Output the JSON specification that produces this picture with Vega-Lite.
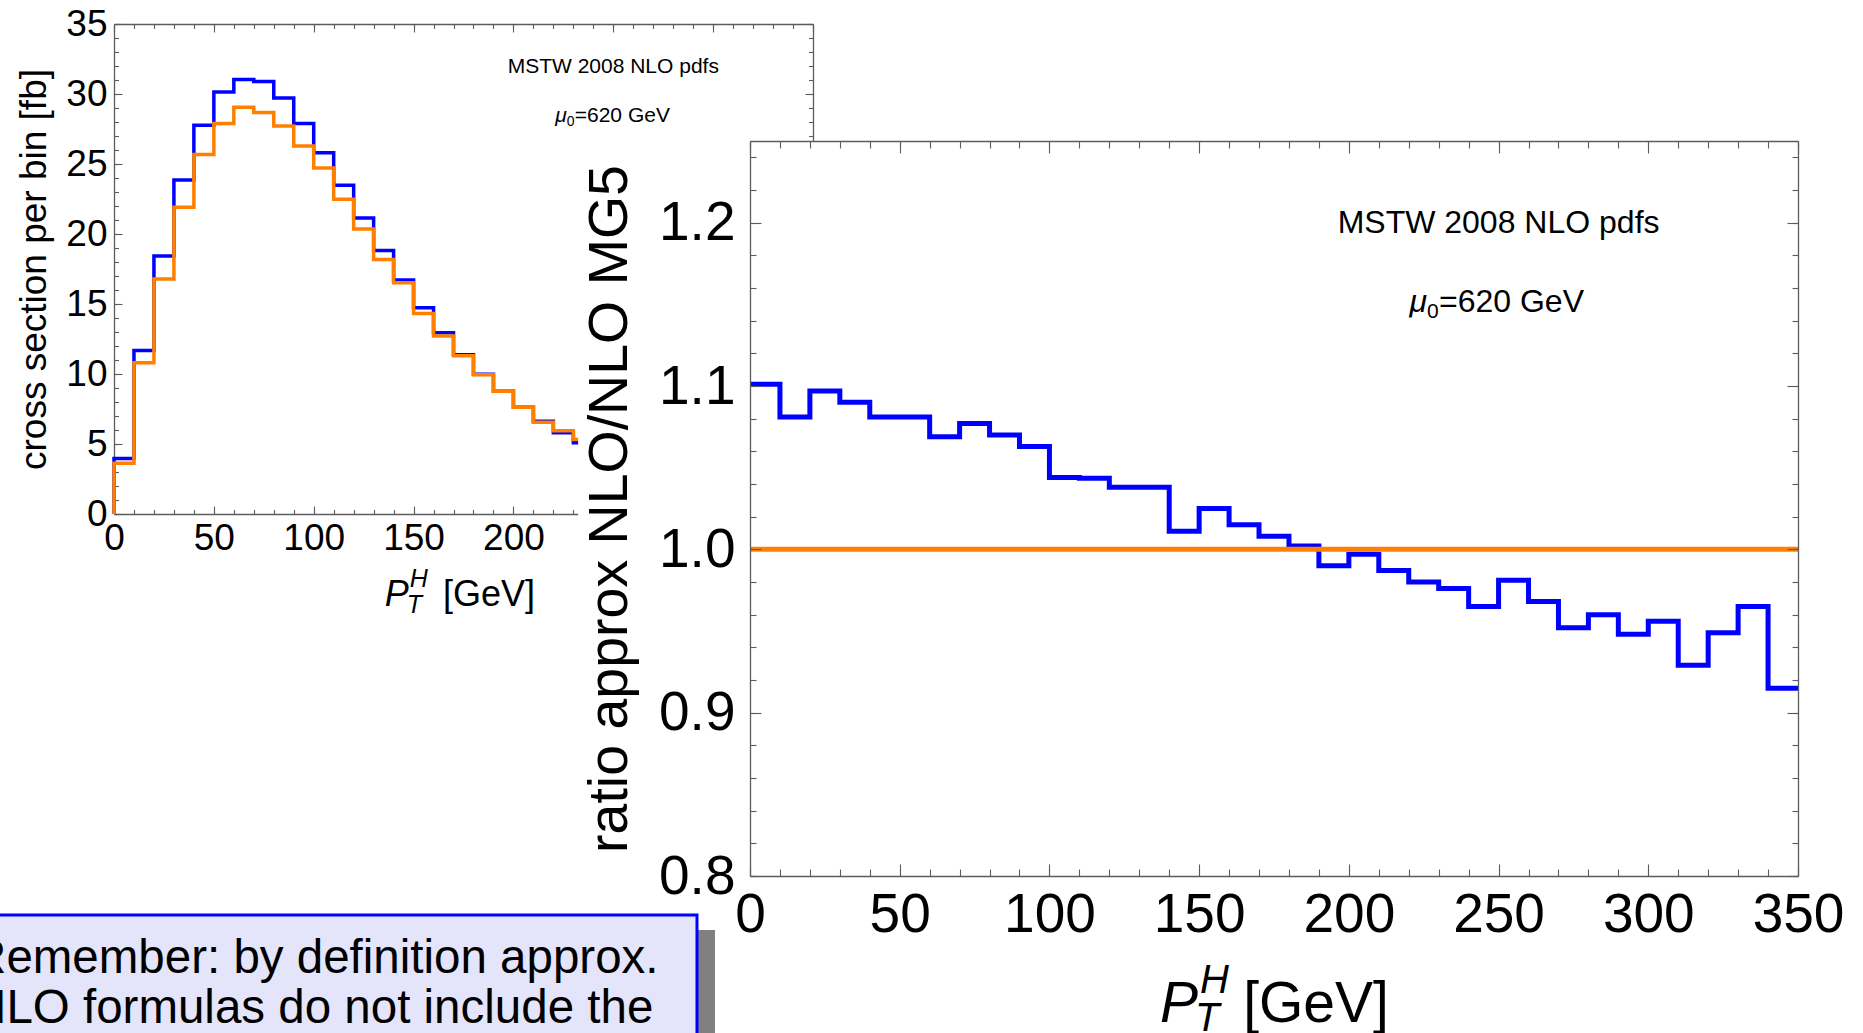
{
  "$schema": "https://vega.github.io/schema/vega-lite/v6.json",
  "width": 1863,
  "height": 1033,
  "autosize": {"type": "none"},
  "padding": 0,
  "background": "white",
  "config": {
    "view": {"stroke": null},
    "font": "Liberation Sans",
    "text": {"font": "Liberation Sans", "color": "black"},
    "axis": {
      "grid": false,
      "labelOverlap": false,
      "labelFlush": false,
      "labelFont": "Liberation Sans",
      "labelColor": "black",
      "titleFont": "Liberation Sans",
      "titleFontWeight": "normal",
      "titleColor": "black",
      "domainColor": "#5c5c5c",
      "domainWidth": 1.3,
      "tickColor": "#5c5c5c",
      "tickWidth": 1.1
    }
  },
  "datasets": {
    "xsec": [
      {"series": "approx NLO", "pt": 0, "xsec": 0},
      {"series": "approx NLO", "pt": 0, "xsec": 3.96},
      {"series": "approx NLO", "pt": 10, "xsec": 11.68},
      {"series": "approx NLO", "pt": 20, "xsec": 18.43},
      {"series": "approx NLO", "pt": 30, "xsec": 23.86},
      {"series": "approx NLO", "pt": 40, "xsec": 27.76},
      {"series": "approx NLO", "pt": 50, "xsec": 30.14},
      {"series": "approx NLO", "pt": 60, "xsec": 31.04},
      {"series": "approx NLO", "pt": 70, "xsec": 30.9},
      {"series": "approx NLO", "pt": 80, "xsec": 29.71},
      {"series": "approx NLO", "pt": 90, "xsec": 27.9},
      {"series": "approx NLO", "pt": 100, "xsec": 25.81},
      {"series": "approx NLO", "pt": 110, "xsec": 23.49},
      {"series": "approx NLO", "pt": 120, "xsec": 21.15},
      {"series": "approx NLO", "pt": 130, "xsec": 18.83},
      {"series": "approx NLO", "pt": 140, "xsec": 16.71},
      {"series": "approx NLO", "pt": 150, "xsec": 14.73},
      {"series": "approx NLO", "pt": 160, "xsec": 12.95},
      {"series": "approx NLO", "pt": 170, "xsec": 11.37},
      {"series": "approx NLO", "pt": 180, "xsec": 9.98},
      {"series": "approx NLO", "pt": 190, "xsec": 8.76},
      {"series": "approx NLO", "pt": 200, "xsec": 7.63},
      {"series": "approx NLO", "pt": 210, "xsec": 6.62},
      {"series": "approx NLO", "pt": 220, "xsec": 5.8},
      {"series": "approx NLO", "pt": 230, "xsec": 5.09},
      {"series": "approx NLO", "pt": 240, "xsec": 5.09},
      {"series": "NLO MG5", "pt": 0, "xsec": 0},
      {"series": "NLO MG5", "pt": 0, "xsec": 3.62},
      {"series": "NLO MG5", "pt": 10, "xsec": 10.8},
      {"series": "NLO MG5", "pt": 20, "xsec": 16.79},
      {"series": "NLO MG5", "pt": 30, "xsec": 21.91},
      {"series": "NLO MG5", "pt": 40, "xsec": 25.67},
      {"series": "NLO MG5", "pt": 50, "xsec": 27.9},
      {"series": "NLO MG5", "pt": 60, "xsec": 29.06},
      {"series": "NLO MG5", "pt": 70, "xsec": 28.67},
      {"series": "NLO MG5", "pt": 80, "xsec": 27.71},
      {"series": "NLO MG5", "pt": 90, "xsec": 26.29},
      {"series": "NLO MG5", "pt": 100, "xsec": 24.71},
      {"series": "NLO MG5", "pt": 110, "xsec": 22.48},
      {"series": "NLO MG5", "pt": 120, "xsec": 20.36},
      {"series": "NLO MG5", "pt": 130, "xsec": 18.18},
      {"series": "NLO MG5", "pt": 140, "xsec": 16.51},
      {"series": "NLO MG5", "pt": 150, "xsec": 14.33},
      {"series": "NLO MG5", "pt": 160, "xsec": 12.72},
      {"series": "NLO MG5", "pt": 170, "xsec": 11.31},
      {"series": "NLO MG5", "pt": 180, "xsec": 9.95},
      {"series": "NLO MG5", "pt": 190, "xsec": 8.76},
      {"series": "NLO MG5", "pt": 200, "xsec": 7.63},
      {"series": "NLO MG5", "pt": 210, "xsec": 6.56},
      {"series": "NLO MG5", "pt": 220, "xsec": 5.94},
      {"series": "NLO MG5", "pt": 230, "xsec": 5.32},
      {"series": "NLO MG5", "pt": 240, "xsec": 5.32}
    ],
    "ratio": [
      {"series": "approx NLO", "pt": 0, "ratio": 1.101},
      {"series": "approx NLO", "pt": 10, "ratio": 1.081},
      {"series": "approx NLO", "pt": 20, "ratio": 1.097},
      {"series": "approx NLO", "pt": 30, "ratio": 1.09},
      {"series": "approx NLO", "pt": 40, "ratio": 1.081},
      {"series": "approx NLO", "pt": 50, "ratio": 1.081},
      {"series": "approx NLO", "pt": 60, "ratio": 1.069},
      {"series": "approx NLO", "pt": 70, "ratio": 1.077},
      {"series": "approx NLO", "pt": 80, "ratio": 1.07},
      {"series": "approx NLO", "pt": 90, "ratio": 1.063},
      {"series": "approx NLO", "pt": 100, "ratio": 1.044},
      {"series": "approx NLO", "pt": 110, "ratio": 1.0435},
      {"series": "approx NLO", "pt": 120, "ratio": 1.038},
      {"series": "approx NLO", "pt": 130, "ratio": 1.038},
      {"series": "approx NLO", "pt": 140, "ratio": 1.011},
      {"series": "approx NLO", "pt": 150, "ratio": 1.025},
      {"series": "approx NLO", "pt": 160, "ratio": 1.015},
      {"series": "approx NLO", "pt": 170, "ratio": 1.008},
      {"series": "approx NLO", "pt": 180, "ratio": 1.002},
      {"series": "approx NLO", "pt": 190, "ratio": 0.99},
      {"series": "approx NLO", "pt": 200, "ratio": 0.997},
      {"series": "approx NLO", "pt": 210, "ratio": 0.987},
      {"series": "approx NLO", "pt": 220, "ratio": 0.98},
      {"series": "approx NLO", "pt": 230, "ratio": 0.976},
      {"series": "approx NLO", "pt": 240, "ratio": 0.965},
      {"series": "approx NLO", "pt": 250, "ratio": 0.981},
      {"series": "approx NLO", "pt": 260, "ratio": 0.968},
      {"series": "approx NLO", "pt": 270, "ratio": 0.952},
      {"series": "approx NLO", "pt": 280, "ratio": 0.96},
      {"series": "approx NLO", "pt": 290, "ratio": 0.948},
      {"series": "approx NLO", "pt": 300, "ratio": 0.956},
      {"series": "approx NLO", "pt": 310, "ratio": 0.929},
      {"series": "approx NLO", "pt": 320, "ratio": 0.949},
      {"series": "approx NLO", "pt": 330, "ratio": 0.965},
      {"series": "approx NLO", "pt": 340, "ratio": 0.915},
      {"series": "approx NLO", "pt": 350, "ratio": 0.915},
      {"series": "NLO MG5", "pt": 0, "ratio": 1},
      {"series": "NLO MG5", "pt": 350, "ratio": 1}
    ]
  },
  "layer": [
    {
      "resolve": {"axis": {"x": "independent", "y": "independent"}},
      "layer": [
        {
          "data": {"name": "xsec"},
          "transform": [{"filter": "datum.series === 'approx NLO'"}],
          "mark": {"type": "line", "interpolate": "step-after", "color": "#0000ff", "strokeWidth": 3.5, "strokeJoin": "miter"},
          "encoding": {
            "x": {"field": "pt", "type": "quantitative",
              "scale": {"domain": [0, 350], "range": [114, 813], "nice": false, "zero": false},
              "axis": {"orient": "bottom", "offset": -519, "values": [0, 50, 100, 150, 200, 250, 300, 350], "tickSize": -8, "labelPadding": 14, "labelFontSize": 37, "title": null, "zindex": 0}},
            "y": {"field": "xsec", "type": "quantitative",
              "scale": {"domain": [0, 35], "range": [514, 24], "nice": false, "zero": false},
              "axis": {"orient": "left", "offset": -114, "values": [0, 5, 10, 15, 20, 25, 30, 35], "tickSize": -8, "labelPadding": 15, "labelFontSize": 37, "title": "cross section per bin [fb]", "titleFontSize": 37, "titlePadding": 12, "zindex": 0}}
          }
        },
        {
          "data": {"name": "xsec"},
          "transform": [{"filter": "datum.series === 'NLO MG5'"}],
          "mark": {"type": "line", "interpolate": "step-after", "color": "#ff8000", "strokeWidth": 3.5, "strokeJoin": "miter"},
          "encoding": {
            "x": {"field": "pt", "type": "quantitative",
              "scale": {"domain": [0, 350], "range": [114, 813], "nice": false, "zero": false},
              "axis": {"orient": "bottom", "offset": -519, "values": [0, 10, 20, 30, 40, 50, 60, 70, 80, 90, 100, 110, 120, 130, 140, 150, 160, 170, 180, 190, 200, 210, 220, 230, 240, 250, 260, 270, 280, 290, 300, 310, 320, 330, 340, 350], "tickSize": -4.5, "labels": false, "domain": false, "title": null, "zindex": 0}},
            "y": {"field": "xsec", "type": "quantitative",
              "scale": {"domain": [0, 35], "range": [514, 24], "nice": false, "zero": false},
              "axis": {"orient": "left", "offset": -114, "values": [0, 1, 2, 3, 4, 5, 6, 7, 8, 9, 10, 11, 12, 13, 14, 15, 16, 17, 18, 19, 20, 21, 22, 23, 24, 25, 26, 27, 28, 29, 30, 31, 32, 33, 34, 35], "tickSize": -4.5, "labels": false, "domain": false, "title": null, "zindex": 0}}
          }
        },
        {
          "data": {"values": [{"x": 250, "y": 31.5, "label": "MSTW 2008 NLO pdfs"}]},
          "mark": {"type": "text", "fontSize": 21, "align": "center", "baseline": "alphabetic"},
          "encoding": {
            "x": {"field": "x", "type": "quantitative",
              "scale": {"domain": [0, 350], "range": [114, 813], "nice": false, "zero": false},
              "axis": {"orient": "top", "offset": -24, "values": [0, 50, 100, 150, 200, 250, 300, 350], "tickSize": -8, "labels": false, "title": null, "zindex": 0}},
            "y": {"field": "y", "type": "quantitative",
              "scale": {"domain": [0, 35], "range": [514, 24], "nice": false, "zero": false},
              "axis": {"orient": "right", "offset": -1050, "values": [0, 5, 10, 15, 20, 25, 30, 35], "tickSize": -8, "labels": false, "title": null, "zindex": 0}},
            "text": {"field": "label"}
          }
        },
        {
          "data": {"values": [{"x": 226.7, "y": 28.02, "label": "μ"}]},
          "mark": {"type": "text", "fontSize": 21, "fontStyle": "italic", "align": "right", "baseline": "alphabetic"},
          "encoding": {
            "x": {"field": "x", "type": "quantitative",
              "scale": {"domain": [0, 350], "range": [114, 813], "nice": false, "zero": false},
              "axis": {"orient": "top", "offset": -24, "values": [0, 10, 20, 30, 40, 50, 60, 70, 80, 90, 100, 110, 120, 130, 140, 150, 160, 170, 180, 190, 200, 210, 220, 230, 240, 250, 260, 270, 280, 290, 300, 310, 320, 330, 340, 350], "tickSize": -4.5, "labels": false, "domain": false, "title": null, "zindex": 0}},
            "y": {"field": "y", "type": "quantitative",
              "scale": {"domain": [0, 35], "range": [514, 24], "nice": false, "zero": false},
              "axis": {"orient": "right", "offset": -1050, "values": [0, 1, 2, 3, 4, 5, 6, 7, 8, 9, 10, 11, 12, 13, 14, 15, 16, 17, 18, 19, 20, 21, 22, 23, 24, 25, 26, 27, 28, 29, 30, 31, 32, 33, 34, 35], "tickSize": -4.5, "labels": false, "domain": false, "title": null, "zindex": 0}},
            "text": {"field": "label"}
          }
        },
        {
          "data": {"values": [{"x": 226.7, "y": 28.02, "label": "0"}]},
          "mark": {"type": "text", "fontSize": 14, "align": "left", "baseline": "alphabetic", "dy": 4},
          "encoding": {
            "x": {"field": "x", "type": "quantitative", "scale": {"domain": [0, 350], "range": [114, 813], "nice": false, "zero": false}, "axis": null},
            "y": {"field": "y", "type": "quantitative", "scale": {"domain": [0, 35], "range": [514, 24], "nice": false, "zero": false}, "axis": null},
            "text": {"field": "label"}
          }
        },
        {
          "data": {"values": [{"x": 226.7, "y": 28.02, "label": "=620 GeV"}]},
          "mark": {"type": "text", "fontSize": 21, "align": "left", "baseline": "alphabetic", "dx": 8},
          "encoding": {
            "x": {"field": "x", "type": "quantitative", "scale": {"domain": [0, 350], "range": [114, 813], "nice": false, "zero": false}, "axis": null},
            "y": {"field": "y", "type": "quantitative", "scale": {"domain": [0, 35], "range": [514, 24], "nice": false, "zero": false}, "axis": null},
            "text": {"field": "label"}
          }
        },
        {
          "data": {"values": [{"x": 147.6, "y": -6.57, "label": "P"}]},
          "mark": {"type": "text", "fontSize": 36, "fontStyle": "italic", "align": "right", "baseline": "alphabetic"},
          "encoding": {
            "x": {"field": "x", "type": "quantitative", "scale": {"domain": [0, 350], "range": [114, 813], "nice": false, "zero": false}, "axis": null},
            "y": {"field": "y", "type": "quantitative", "scale": {"domain": [0, 35], "range": [514, 24], "nice": false, "zero": false}, "axis": null},
            "text": {"field": "label"}
          }
        },
        {
          "data": {"values": [{"x": 147.6, "y": -6.57, "label": "H"}]},
          "mark": {"type": "text", "fontSize": 25, "fontStyle": "italic", "align": "left", "baseline": "alphabetic", "dx": 1, "dy": -19},
          "encoding": {
            "x": {"field": "x", "type": "quantitative", "scale": {"domain": [0, 350], "range": [114, 813], "nice": false, "zero": false}, "axis": null},
            "y": {"field": "y", "type": "quantitative", "scale": {"domain": [0, 35], "range": [514, 24], "nice": false, "zero": false}, "axis": null},
            "text": {"field": "label"}
          }
        },
        {
          "data": {"values": [{"x": 147.6, "y": -6.57, "label": "T"}]},
          "mark": {"type": "text", "fontSize": 25, "fontStyle": "italic", "align": "left", "baseline": "alphabetic", "dx": -2, "dy": 7},
          "encoding": {
            "x": {"field": "x", "type": "quantitative", "scale": {"domain": [0, 350], "range": [114, 813], "nice": false, "zero": false}, "axis": null},
            "y": {"field": "y", "type": "quantitative", "scale": {"domain": [0, 35], "range": [514, 24], "nice": false, "zero": false}, "axis": null},
            "text": {"field": "label"}
          }
        },
        {
          "data": {"values": [{"x": 164.7, "y": -6.57, "label": "[GeV]"}]},
          "mark": {"type": "text", "fontSize": 36, "align": "left", "baseline": "alphabetic"},
          "encoding": {
            "x": {"field": "x", "type": "quantitative", "scale": {"domain": [0, 350], "range": [114, 813], "nice": false, "zero": false}, "axis": null},
            "y": {"field": "y", "type": "quantitative", "scale": {"domain": [0, 35], "range": [514, 24], "nice": false, "zero": false}, "axis": null},
            "text": {"field": "label"}
          }
        }
      ]
    },
    {
      "resolve": {"axis": {"x": "independent", "y": "independent"}},
      "layer": [
        {
          "data": {"values": [{"x": -57.4, "x2": 374, "y": 1.25, "y2": 0.69}]},
          "mark": {"type": "rect", "fill": "white"},
          "encoding": {
            "x": {"field": "x", "type": "quantitative", "scale": {"domain": [0, 350], "range": [750, 1798], "nice": false, "zero": false}, "axis": null},
            "x2": {"field": "x2"},
            "y": {"field": "y", "type": "quantitative", "scale": {"domain": [0.8, 1.25], "range": [876, 141], "nice": false, "zero": false}, "axis": null},
            "y2": {"field": "y2"}
          }
        },
        {
          "data": {"name": "ratio"},
          "transform": [{"filter": "datum.series === 'approx NLO'"}],
          "mark": {"type": "line", "interpolate": "step-after", "color": "#0000ff", "strokeWidth": 5, "strokeJoin": "miter"},
          "encoding": {
            "x": {"field": "pt", "type": "quantitative",
              "scale": {"domain": [0, 350], "range": [750, 1798], "nice": false, "zero": false},
              "axis": {"orient": "bottom", "offset": -157, "values": [0, 50, 100, 150, 200, 250, 300, 350], "tickSize": -12, "labelPadding": 24, "labelFontSize": 55, "title": null, "zindex": 1}},
            "y": {"field": "ratio", "type": "quantitative",
              "scale": {"domain": [0.8, 1.25], "range": [876, 141], "nice": false, "zero": false},
              "axis": {"orient": "left", "offset": -750, "values": [0.8, 0.9, 1, 1.1, 1.2], "format": ".1f", "tickSize": -11, "labelPadding": 26, "labelFontSize": 55, "title": "ratio approx NLO/NLO MG5", "titleFontSize": 55.5, "titlePadding": 20, "zindex": 1}}
          }
        },
        {
          "data": {"name": "ratio"},
          "transform": [{"filter": "datum.series === 'NLO MG5'"}],
          "mark": {"type": "line", "interpolate": "step-after", "color": "#ff8000", "strokeWidth": 5},
          "encoding": {
            "x": {"field": "pt", "type": "quantitative",
              "scale": {"domain": [0, 350], "range": [750, 1798], "nice": false, "zero": false},
              "axis": {"orient": "bottom", "offset": -157, "values": [0, 10, 20, 30, 40, 50, 60, 70, 80, 90, 100, 110, 120, 130, 140, 150, 160, 170, 180, 190, 200, 210, 220, 230, 240, 250, 260, 270, 280, 290, 300, 310, 320, 330, 340, 350], "tickSize": -7, "labels": false, "domain": false, "title": null, "zindex": 1}},
            "y": {"field": "ratio", "type": "quantitative",
              "scale": {"domain": [0.8, 1.25], "range": [876, 141], "nice": false, "zero": false},
              "axis": {"orient": "left", "offset": -750, "values": [0.8, 0.82, 0.84, 0.86, 0.88, 0.9, 0.92, 0.94, 0.96, 0.98, 1, 1.02, 1.04, 1.06, 1.08, 1.1, 1.12, 1.14, 1.16, 1.18, 1.2, 1.22, 1.24], "tickSize": -6, "labels": false, "domain": false, "title": null, "zindex": 1}}
          }
        },
        {
          "data": {"values": [{"x": 250, "y": 1.1937, "label": "MSTW 2008 NLO pdfs"}]},
          "mark": {"type": "text", "fontSize": 32, "align": "center", "baseline": "alphabetic"},
          "encoding": {
            "x": {"field": "x", "type": "quantitative",
              "scale": {"domain": [0, 350], "range": [750, 1798], "nice": false, "zero": false},
              "axis": {"orient": "top", "offset": -141, "values": [0, 50, 100, 150, 200, 250, 300, 350], "tickSize": -12, "labels": false, "title": null, "zindex": 1}},
            "y": {"field": "y", "type": "quantitative",
              "scale": {"domain": [0.8, 1.25], "range": [876, 141], "nice": false, "zero": false},
              "axis": {"orient": "right", "offset": -65, "values": [0.8, 0.9, 1, 1.1, 1.2], "tickSize": -11, "labels": false, "title": null, "zindex": 1}},
            "text": {"field": "label"}
          }
        },
        {
          "data": {"values": [{"x": 226.1, "y": 1.1455, "label": "μ"}]},
          "mark": {"type": "text", "fontSize": 32, "fontStyle": "italic", "align": "right", "baseline": "alphabetic"},
          "encoding": {
            "x": {"field": "x", "type": "quantitative",
              "scale": {"domain": [0, 350], "range": [750, 1798], "nice": false, "zero": false},
              "axis": {"orient": "top", "offset": -141, "values": [0, 10, 20, 30, 40, 50, 60, 70, 80, 90, 100, 110, 120, 130, 140, 150, 160, 170, 180, 190, 200, 210, 220, 230, 240, 250, 260, 270, 280, 290, 300, 310, 320, 330, 340, 350], "tickSize": -7, "labels": false, "domain": false, "title": null, "zindex": 1}},
            "y": {"field": "y", "type": "quantitative",
              "scale": {"domain": [0.8, 1.25], "range": [876, 141], "nice": false, "zero": false},
              "axis": {"orient": "right", "offset": -65, "values": [0.8, 0.82, 0.84, 0.86, 0.88, 0.9, 0.92, 0.94, 0.96, 0.98, 1, 1.02, 1.04, 1.06, 1.08, 1.1, 1.12, 1.14, 1.16, 1.18, 1.2, 1.22, 1.24], "tickSize": -6, "labels": false, "domain": false, "title": null, "zindex": 1}},
            "text": {"field": "label"}
          }
        },
        {
          "data": {"values": [{"x": 226.1, "y": 1.1455, "label": "0"}]},
          "mark": {"type": "text", "fontSize": 21, "align": "left", "baseline": "alphabetic", "dy": 6},
          "encoding": {
            "x": {"field": "x", "type": "quantitative", "scale": {"domain": [0, 350], "range": [750, 1798], "nice": false, "zero": false}, "axis": null},
            "y": {"field": "y", "type": "quantitative", "scale": {"domain": [0.8, 1.25], "range": [876, 141], "nice": false, "zero": false}, "axis": null},
            "text": {"field": "label"}
          }
        },
        {
          "data": {"values": [{"x": 226.1, "y": 1.1455, "label": "=620 GeV"}]},
          "mark": {"type": "text", "fontSize": 32, "align": "left", "baseline": "alphabetic", "dx": 12},
          "encoding": {
            "x": {"field": "x", "type": "quantitative", "scale": {"domain": [0, 350], "range": [750, 1798], "nice": false, "zero": false}, "axis": null},
            "y": {"field": "y", "type": "quantitative", "scale": {"domain": [0.8, 1.25], "range": [876, 141], "nice": false, "zero": false}, "axis": null},
            "text": {"field": "label"}
          }
        },
        {
          "data": {"values": [{"x": 149.6, "y": 0.7106, "label": "P"}]},
          "mark": {"type": "text", "fontSize": 57, "fontStyle": "italic", "align": "right", "baseline": "alphabetic"},
          "encoding": {
            "x": {"field": "x", "type": "quantitative", "scale": {"domain": [0, 350], "range": [750, 1798], "nice": false, "zero": false}, "axis": null},
            "y": {"field": "y", "type": "quantitative", "scale": {"domain": [0.8, 1.25], "range": [876, 141], "nice": false, "zero": false}, "axis": null},
            "text": {"field": "label"}
          }
        },
        {
          "data": {"values": [{"x": 149.6, "y": 0.7106, "label": "H"}]},
          "mark": {"type": "text", "fontSize": 40, "fontStyle": "italic", "align": "left", "baseline": "alphabetic", "dx": 2, "dy": -29},
          "encoding": {
            "x": {"field": "x", "type": "quantitative", "scale": {"domain": [0, 350], "range": [750, 1798], "nice": false, "zero": false}, "axis": null},
            "y": {"field": "y", "type": "quantitative", "scale": {"domain": [0.8, 1.25], "range": [876, 141], "nice": false, "zero": false}, "axis": null},
            "text": {"field": "label"}
          }
        },
        {
          "data": {"values": [{"x": 149.6, "y": 0.7106, "label": "T"}]},
          "mark": {"type": "text", "fontSize": 40, "fontStyle": "italic", "align": "left", "baseline": "alphabetic", "dx": -3, "dy": 9},
          "encoding": {
            "x": {"field": "x", "type": "quantitative", "scale": {"domain": [0, 350], "range": [750, 1798], "nice": false, "zero": false}, "axis": null},
            "y": {"field": "y", "type": "quantitative", "scale": {"domain": [0.8, 1.25], "range": [876, 141], "nice": false, "zero": false}, "axis": null},
            "text": {"field": "label"}
          }
        },
        {
          "data": {"values": [{"x": 164.7, "y": 0.7106, "label": "[GeV]"}]},
          "mark": {"type": "text", "fontSize": 57, "align": "left", "baseline": "alphabetic"},
          "encoding": {
            "x": {"field": "x", "type": "quantitative", "scale": {"domain": [0, 350], "range": [750, 1798], "nice": false, "zero": false}, "axis": null},
            "y": {"field": "y", "type": "quantitative", "scale": {"domain": [0.8, 1.25], "range": [876, 141], "nice": false, "zero": false}, "axis": null},
            "text": {"field": "label"}
          }
        },
        {
          "data": {"values": [{"x": -248, "x2": -11.7, "y": 0.7669, "y2": 0.69}]},
          "mark": {"type": "rect", "fill": "#808080"},
          "encoding": {
            "x": {"field": "x", "type": "quantitative", "scale": {"domain": [0, 350], "range": [750, 1798], "nice": false, "zero": false}, "axis": null},
            "x2": {"field": "x2"},
            "y": {"field": "y", "type": "quantitative", "scale": {"domain": [0.8, 1.25], "range": [876, 141], "nice": false, "zero": false}, "axis": null},
            "y2": {"field": "y2"}
          }
        },
        {
          "data": {"values": [{"x": -253.8, "x2": -17.7, "y": 0.7761, "y2": 0.69}]},
          "mark": {"type": "rect", "fill": "#e4e4fa", "stroke": "#0000ff", "strokeWidth": 3},
          "encoding": {
            "x": {"field": "x", "type": "quantitative", "scale": {"domain": [0, 350], "range": [750, 1798], "nice": false, "zero": false}, "axis": null},
            "x2": {"field": "x2"},
            "y": {"field": "y", "type": "quantitative", "scale": {"domain": [0.8, 1.25], "range": [876, 141], "nice": false, "zero": false}, "axis": null},
            "y2": {"field": "y2"}
          }
        },
        {
          "data": {"values": [{"x": -259.8, "y": 0.7408, "label": "Remember: by definition approx.\nNLO formulas do not include the"}]},
          "mark": {"type": "text", "fontSize": 47.5, "align": "left", "baseline": "alphabetic", "lineBreak": "\n", "lineHeight": 50},
          "encoding": {
            "x": {"field": "x", "type": "quantitative", "scale": {"domain": [0, 350], "range": [750, 1798], "nice": false, "zero": false}, "axis": null},
            "y": {"field": "y", "type": "quantitative", "scale": {"domain": [0.8, 1.25], "range": [876, 141], "nice": false, "zero": false}, "axis": null},
            "text": {"field": "label"}
          }
        }
      ]
    }
  ],
  "resolve": {"scale": {"x": "independent", "y": "independent"}}
}
